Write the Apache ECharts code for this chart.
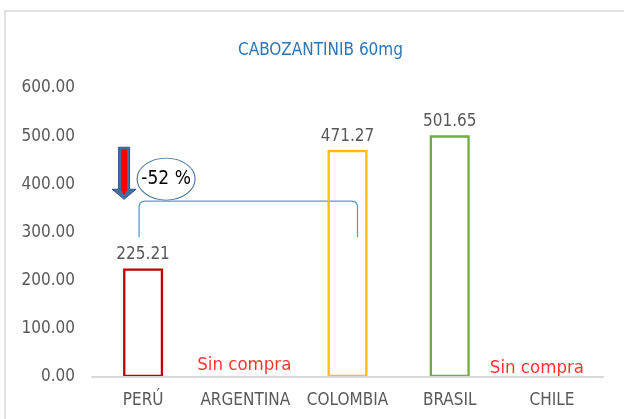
<!DOCTYPE html>
<html>
<head>
<meta charset="utf-8">
<script src="https://cdn.jsdelivr.net/npm/echarts@6/dist/echarts.min.js"></script>
<style>
  html, body { margin: 0; padding: 0; background: #fff; }
  #main { width: 624px; height: 419px; }
</style>
</head>
<body>
<div id="main"></div>
<script>
  // datos del grafico
  var categories = ['PERÚ', 'ARGENTINA', 'COLOMBIA', 'BRASIL', 'CHILE'];
  var prices = [225.21, null, 471.27, 501.65, null];
  var barColors = ['#c00000', null, '#ffc000', '#70ad47', null];
  var noPurchase = ['ARGENTINA', 'CHILE'];
  var noPurchaseText = 'Sin compra';
  var changeText = '-52 %';

  var FONT = '"DejaVu Sans Condensed", "DejaVu Sans", sans-serif';
  var GREY = '#595959';

  var chart = echarts.init(document.getElementById('main'));

  var barData = prices.map(function (v, i) {
    if (v === null) return null;
    return {
      value: v,
      itemStyle: { color: 'rgba(255,255,255,0)', borderColor: barColors[i], borderWidth: 2.3 }
    };
  });

  var noPurchaseData = noPurchase.map(function (c, i) {
    return {
      value: [c, 0],
      label: { offset: i == 0 ? [-1, -1] : [-15, 2] }
    };
  });

  chart.setOption({
    animation: false,
    textStyle: { fontFamily: FONT },
    title: {
      text: 'CABOZANTINIB 60mg',
      left: 233,
      top: 37,
      textStyle: { color: '#2f75b5', fontSize: 17, fontWeight: 'normal', fontFamily: FONT }
    },
    grid: { left: 92, right: 21, top: 88, bottom: 42 },
    xAxis: {
      type: 'category',
      data: categories,
      z: 5,
      axisLine: { lineStyle: { color: '#d9d9d9', width: 2 } },
      axisTick: { show: false },
      axisLabel: { color: GREY, fontSize: 17, margin: 15, interval: 0, fontFamily: FONT }
    },
    yAxis: {
      type: 'value',
      min: 0,
      max: 600,
      interval: 100,
      axisLine: { show: false },
      axisTick: { show: false },
      splitLine: { show: false },
      axisLabel: {
        color: GREY, fontSize: 17, margin: 17, fontFamily: FONT,
        formatter: function (v) { return v.toFixed(2); }
      }
    },
    series: [
      {
        name: 'precio',
        type: 'bar',
        barWidth: 40,
        data: barData,
        label: {
          show: true,
          position: 'top',
          distance: 5,
          color: GREY,
          fontSize: 17,
          fontFamily: FONT,
          formatter: function (p) { return p.value.toFixed(2); }
        }
      },
      {
        name: 'sin compra',
        type: 'scatter',
        symbolSize: 0,
        data: noPurchaseData,
        label: {
          show: true,
          position: 'top',
          distance: 1,
          color: '#ff0000',
          fontSize: 18.5,
          fontFamily: FONT,
          formatter: function () { return noPurchaseText; }
        }
      }
    ]
  });

  // anotaciones: flecha, elipse y corchete
  function px(cat, val) {
    return chart.convertToPixel({ gridIndex: 0 }, [cat, val]);
  }
  var bL = px('PERÚ', 290), bT = px('PERÚ', 365), cR = px('COLOMBIA', 290);
  var x1 = bL[0] - 4, x2 = cR[0] + 10, yb = bL[1], yt = bT[1];
  var ell = px('PERÚ', 411);
  var aTop = px('PERÚ', 477), aTip = px('PERÚ', 369);
  var ax = aTop[0] - 19, at = aTop[1], ab = aTip[1];

  chart.setOption({
    graphic: [
      {
        type: 'rect',
        shape: { x: 5, y: 11, width: 700, height: 500 },
        style: { fill: null, stroke: '#d9d9d9', lineWidth: 1.5 },
        silent: true
      },
      {
        type: 'polyline',
        shape: {
          points: [[x1, yb], [x1, yt + 5], [x1 + 1, yt + 2], [x1 + 3, yt + 0.5], [x1 + 6, yt],
                   [x2 - 6, yt], [x2 - 3, yt + 0.5], [x2 - 1, yt + 2], [x2, yt + 5], [x2, yb]]
        },
        style: { fill: null, stroke: '#5b9bd5', lineWidth: 1.3 }
      },
      {
        type: 'circle',
        x: ell[0] + 23,
        y: ell[1],
        scaleY: 21 / 29,
        shape: { cx: 0, cy: 0, r: 29 },
        style: { fill: '#fff', stroke: '#41719c', lineWidth: 1.1 },
        z: 10
      },
      {
        type: 'text',
        x: ell[0] + 23,
        y: ell[1],
        style: {
          text: changeText, fontSize: 19, fontFamily: FONT, fill: '#000',
          align: 'center', verticalAlign: 'middle'
        },
        z: 11
      },
      {
        type: 'polygon',
        shape: {
          points: [[ax - 5.5, at], [ax + 5.5, at], [ax + 5.5, ab - 10], [ax + 12, ab - 10],
                   [ax, ab], [ax - 12, ab - 10], [ax - 5.5, ab - 10]]
        },
        style: { fill: '#41719c', stroke: '#2f528f', lineWidth: 1 },
        z: 10
      },
      {
        type: 'polygon',
        shape: {
          points: [[ax - 3, at + 2], [ax + 3, at + 2], [ax + 3, ab - 9],
                   [ax, ab - 4], [ax - 3, ab - 9]]
        },
        style: { fill: '#ff0000' },
        z: 11
      }
    ]
  });
</script>
</body>
</html>
